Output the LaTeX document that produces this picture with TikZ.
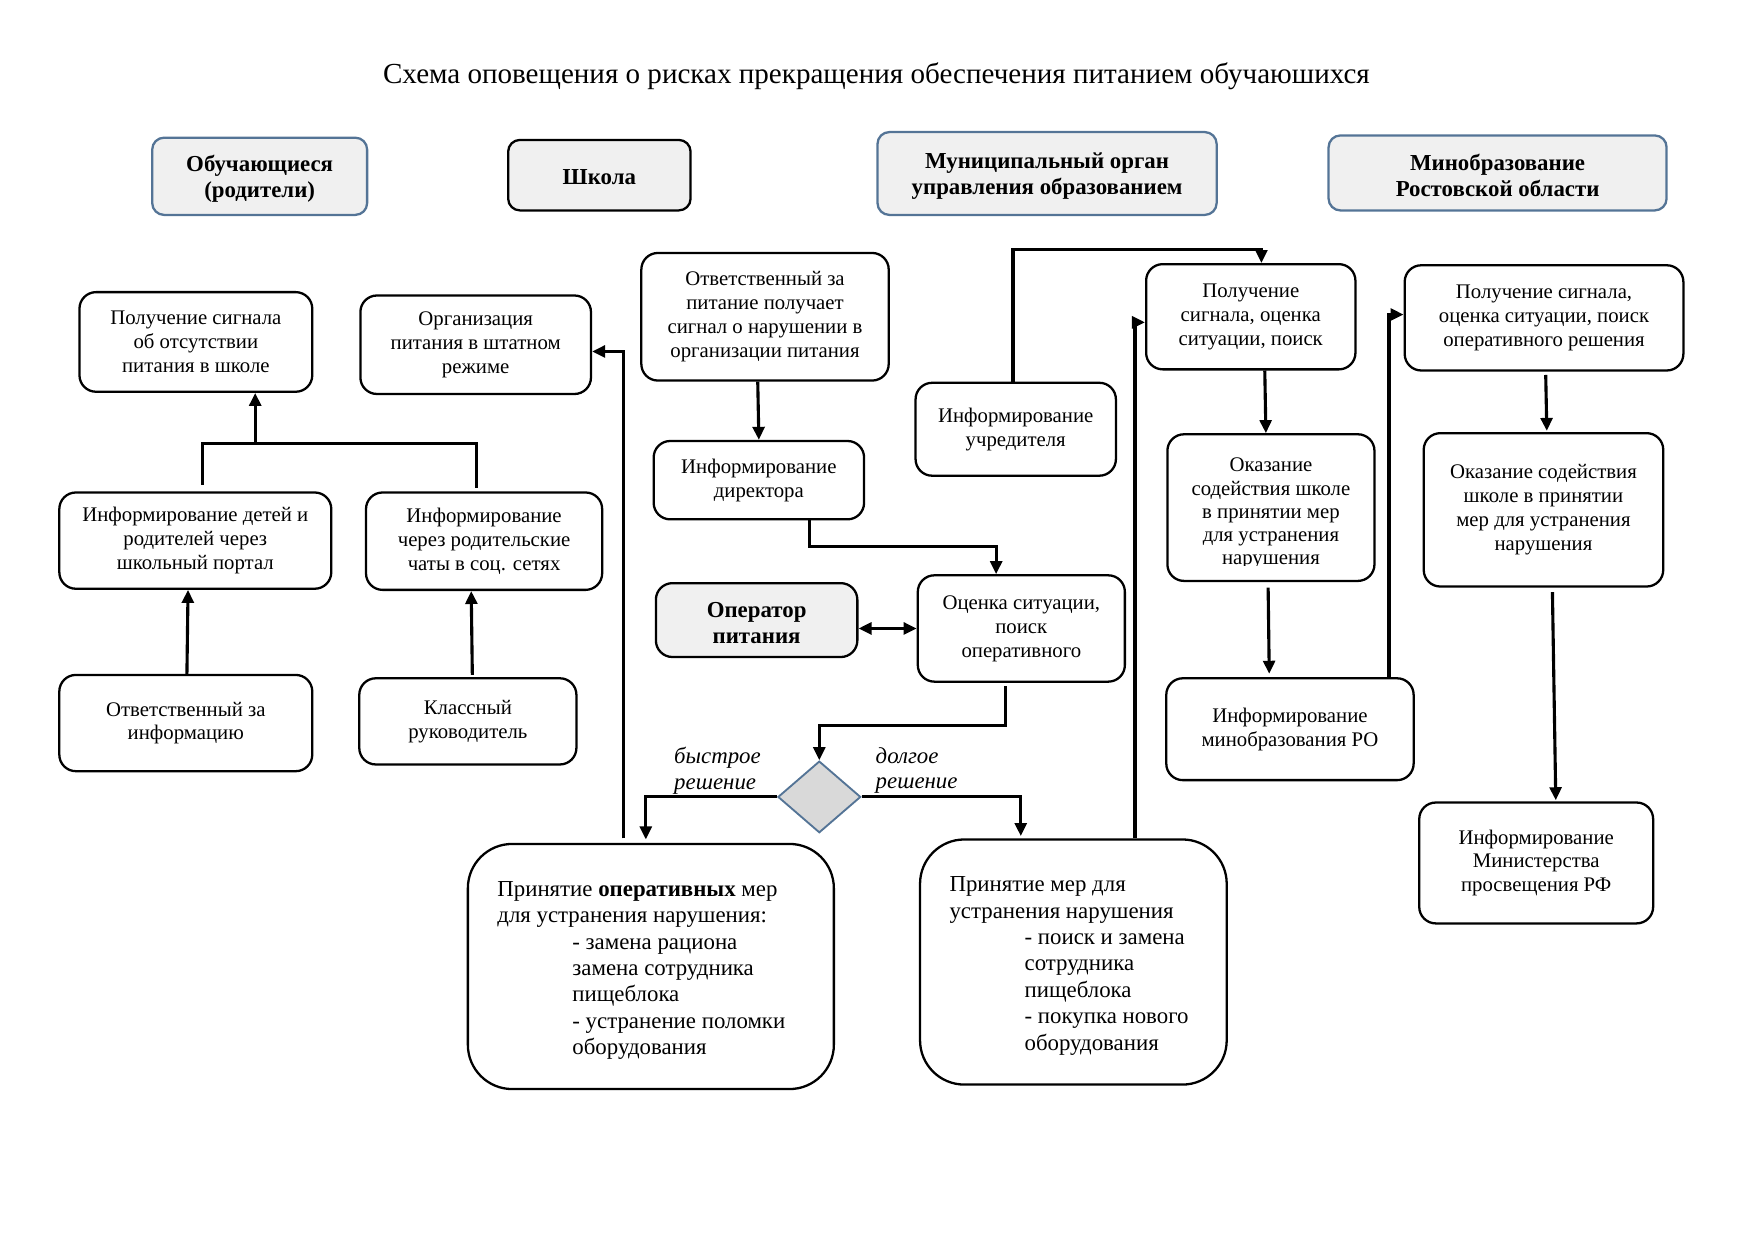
\documentclass[tikz,border=0pt]{standalone}
\usepackage{fontspec}
\setmainfont{Liberation Serif}
\usetikzlibrary{shapes.geometric,arrows.meta,calc}
\newcommand\pxu{0.1894mm}
\definecolor{hdrblue}{RGB}{84,116,150}
\definecolor{hdrfill}{RGB}{240,240,240}
\definecolor{dmdfill}{RGB}{217,217,217}
\begin{document}
\begin{tikzpicture}[x=0.1894mm,y=-0.1894mm,
  sz/.style 2 args={minimum width=#1*\pxu, minimum height=#2*\pxu},
  box/.style={draw, line width=1.1pt, rounded corners=2.8mm, align=center, inner sep=0pt, font=\fontsize{10}{11.5}\selectfont},
  hdr/.style={draw=hdrblue, fill=hdrfill, line width=1.1pt, rounded corners=2mm, inner sep=0pt},
  hdrtext/.style={align=center, inner sep=0pt, font=\fontsize{11}{12.6}\selectfont\bfseries},
  big/.style={draw, line width=1.1pt, rounded corners=7.5mm, inner sep=0pt},
  bigtext/.style={anchor=west, align=left, inner sep=0pt, font=\fontsize{11}{12.7}\selectfont},
  lbl/.style={anchor=west, align=left, inner sep=0pt, font=\fontsize{11}{12.4}\selectfont\itshape},
  conn/.style={line width=1.5pt},
  arr/.style={conn, -{Triangle[length=2.2mm,width=2mm]}},
  darr/.style={conn, {Triangle[length=2.2mm,width=2mm]}-{Triangle[length=2.2mm,width=2mm]}},
]
\path[use as bounding box] (0,0) rectangle (1568,1109);

\node[font=\fontsize{14}{16}\selectfont, inner sep=0pt] (title) at (783,68) {Схема оповещения о рисках прекращения обеспечения питанием обучаюшихся};

% headers
\node[hdr, sz={192}{69}] (H1) at (232,157.5) {};
\node[hdrtext] (H1t) at ($(H1)+(0,2.5)$) {Обучающиеся\\(родители)};
\node[hdr, draw=black, sz={163}{63}] (H2) at (535.5,156.5) {};
\node[hdrtext] (H2t) at ($(H2)+(0,1.5)$) {Школа};
\node[hdr, sz={303}{74}] (H3) at (935.5,155) {};
\node[hdrtext] (H3t) at ($(H3)+(0,2.5)$) {Муниципальный орган\\управления образованием};
\node[hdr, sz={302}{67}] (H4) at (1338,154.5) {};
\node[hdrtext] (H4t) at ($(H4)+(0,2)$) {Минобразование\\Ростовской области};

% left column
\node[box, sz={208}{89}] (L1) at (175,305.5) {Получение сигнала\\об отсутствии\\питания в школе};
\node[box, sz={206}{88}] (L2) at (425,308) {Организация\\питания в штатном\\режиме};
\node[box, sz={243}{86}] (L3) at (174.5,483) {Информирование детей и\\родителей через\\школьный портал};
\node[box, sz={211}{87}] (L4) at (432.5,483.5) {Информирование\\через родительские\\чаты в соц. сетях};
\node[box, sz={226}{86}] (L5) at (166,646) {Ответственный за\\информацию};
\node[box, sz={194}{77}] (L6) at (418,644.5) {Классный\\руководитель};

% middle
\node[box, sz={221}{114}] (M1) at (683.5,283) {Ответственный за\\питание получает\\сигнал о нарушении в\\организации питания};
\node[box, sz={188}{70}] (M2) at (678,429) {Информирование\\директора};
\node[box, fill=hdrfill, sz={180}{66}] (M3) at (676,554) {};
\node[hdrtext] (M3t) at ($(M3)+(0,2.5)$) {Оператор\\питания};
\node[box, sz={185}{95}] (M4) at (912.5,561.5) {Оценка ситуации,\\поиск\\оперативного};
\node[box, sz={179}{83}] (M5) at (907.5,383.5) {Информирование\\учредителя};
\node[diamond, draw=hdrblue, fill=dmdfill, line width=0.9pt, inner sep=0pt, sz={74}{64}] (D) at (732,712) {};

\node[big, sz={327}{219}] (B1) at (581.5,863.5) {};
\node[bigtext] (B1t) at (444,867) {Принятие \textbf{оперативных} мер\\для устранения нарушения:\\\hspace*{12.7mm}- замена рациона\\\hspace*{12.7mm}замена сотрудника\\\hspace*{12.7mm}пищеблока\\\hspace*{12.7mm}- устранение поломки\\\hspace*{12.7mm}оборудования};
\node[big, sz={274}{219}] (B2) at (959,859.5) {};
\node[bigtext] (B2t) at (848,863) {Принятие мер для\\устранения нарушения\\\hspace*{12.7mm}- поиск и замена\\\hspace*{12.7mm}сотрудника\\\hspace*{12.7mm}пищеблока\\\hspace*{12.7mm}- покупка нового\\\hspace*{12.7mm}оборудования};

\node[lbl] (lq) at (602,688.5) {быстрое\\решение};
\node[lbl] (ll) at (782,688.5) {долгое\\решение};

% right-middle
\node[box, sz={187}{94}] (R1) at (1117.5,283) {Получение\\сигнала, оценка\\ситуации, поиск};
\node[box, sz={185}{131}] (R2) at (1135.5,453.5) {};
\begin{scope}
\clip (1043,388) rectangle (1228,505);
\node[align=center, inner sep=0pt, font=\fontsize{10}{11.2}\selectfont] (R2t) at (1135.5,459) {Оказание\\содействия школе\\в принятии мер\\для устранения\\нарушения};
\end{scope}
\node[box, sz={221}{91}] (R3) at (1152.5,651.5) {Информирование\\минобразования РО};

% right
\node[box, sz={249}{94}] (S1) at (1379.5,284) {Получение сигнала,\\оценка ситуации, поиск\\оперативного решения};
\node[box, sz={214}{137}] (S2) at (1379,455.5) {Оказание содействия\\школе в принятии\\мер для устранения\\нарушения};
\node[box, sz={209}{108}] (S3) at (1372.5,771) {Информирование\\Министерства\\просвещения РФ};

% connectors left
\coordinate (brk) at ($(L1.south)+(53,45)$);
\draw[conn] ($(L3.north)+(6.5,-6)$) |- (brk) -| ($(L4.north)+(-6.5,-3)$);
\draw[arr] (brk) -- (brk |- L1.south);
\draw[arr] ($(L5.north)+(1,0)$) -- ($(L3.south)+(-6.5,0)$);
\draw[arr] ($(L6.north)+(4,-2)$) -- ($(L4.south)+(-11.5,0)$);
\draw[arr] ($(B1.north)+(-24.5,-4)$) |- ($(L2.east)+(0,6)$);

% connectors middle
\draw[arr] ($(M1.south)+(-6.5,0)$) -- (M2.north);
\draw[arr] ($(M2.south)+(45,0)$) -- ++(0,23) -| ($(M4.north)+(-22.5,0)$);
\draw[darr] (M3.east |- M4.west) -- (M4.west);
\draw[arr] ($(M4.south)+(-14.5,3)$) -- ++(0,35) -| (D.north);
\draw[arr] (D.west) -| ($(B1.north)+(-4.5,-3)$);
\draw[arr] (D.east) -| ($(B2.north)+(-47,-2)$);
\draw[arr] ($(B2.north)+(55,0)$) |- ($(R1.west)+(0,5)$);
\draw[arr] ($(M5.north)+(-2.5,0)$) |- ($(R1.north)+(9.5,-12)$) -- ($(R1.north)+(9.5,0)$);

% connectors right
\draw[arr] ($(R1.south)+(12.5,0)$) -- ($(R2.north)+(-4.5,0)$);
\draw[arr] ($(R2.south)+(-2.5,5)$) -- ($(R3.north)+(-18.5,-3)$);
\draw[arr] ($(R3.north)+(88.5,0)$) |- ($(S1.west)+(0,-3)$);
\draw[arr] ($(S1.south)+(1.5,3)$) -- ($(S2.north)+(3,-1)$);
\draw[arr] ($(S2.south)+(8,4)$) -- ($(S3.north)+(17.5,-1)$);
\end{tikzpicture}
\end{document}
